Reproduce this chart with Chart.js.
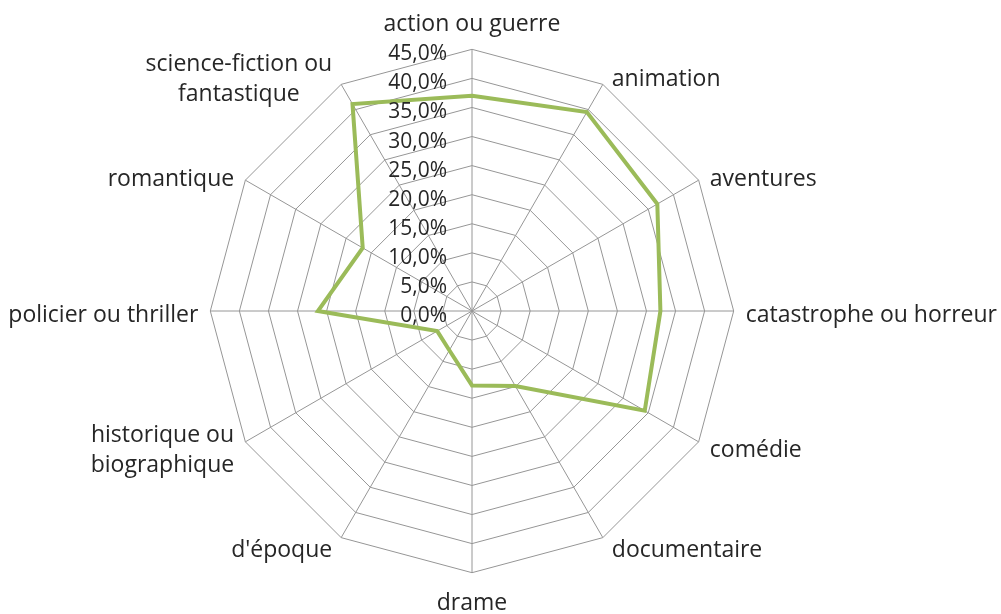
<!DOCTYPE html>
<html>
<head>
<meta charset="utf-8">
<script src="https://cdn.jsdelivr.net/npm/chart.js@4/dist/chart.umd.min.js"></script>
<style>
  html, body { margin: 0; padding: 0; background: #fff; overflow: hidden; width: 1001px; height: 614px; }
  /* canvas a bit wider than the window so the long side labels touch the edges */
  #wrap { position: absolute; left: -29px; top: 5px; width: 1048px; height: 614px; }
</style>
</head>
<body>
<div id="wrap"><canvas id="radarChart"></canvas></div>
<script>
const genres = [
  'action ou guerre',
  'animation',
  'aventures',
  'catastrophe ou horreur',
  'comédie',
  'documentaire',
  'drame',
  "d'époque",
  ['historique ou', 'biographique'],
  'policier ou thriller',
  'romantique',
  ['science-fiction ou', 'fantastique']
];
const shares = [37.0, 39.5, 36.8, 32.4, 34.3, 14.9, 12.8, 7.8, 6.9, 26.5, 21.7, 41.1];
const tickValues = [0, 5, 10, 15, 20, 25, 30, 35, 40, 45];
const tickLabels = ['0,0%', '5,0%', '10,0%', '15,0%', '20,0%', '25,0%', '30,0%', '35,0%', '40,0%', '45,0%'];

const textColor = '#262626';

// Excel-style tick labels, right aligned just left of the vertical axis
const tickLabelPlugin = {
  id: 'tickLabels',
  afterDraw(chart) {
    const scale = chart.scales.r;
    const c = chart.ctx;
    c.save();
    c.font = '21px "Open Sans"';
    c.fillStyle = textColor;
    c.textAlign = 'right';
    c.textBaseline = 'alphabetic';
    tickValues.forEach((v, i) => {
      const d = scale.getDistanceFromCenterForValue(v);
      c.fillText(tickLabels[i], scale.xCenter - 25, scale.yCenter - d + 11);
    });
    c.restore();
  }
};

// category labels placed the Excel way: side labels roughly centred on
// their spoke, multi-line labels centred inside their block
const categoryLabelPlugin = {
  id: 'categoryLabels',
  afterDraw(chart) {
    const scale = chart.scales.r;
    const c = chart.ctx;
    const lineH = 30;
    c.save();
    c.font = '23px "Open Sans"';
    c.fillStyle = textColor;
    c.textAlign = 'center';
    c.textBaseline = 'middle';
    genres.forEach((label, i) => {
      const lines = Array.isArray(label) ? label : [label];
      const a = scale.getIndexAngle(i);
      const s = Math.sin(a), co = Math.cos(a);
      const p = scale.getPointPosition(i, scale.drawingArea);
      const blockW = Math.max(...lines.map(l => c.measureText(l).width));
      const blockH = lines.length * lineH;
      let cx, cy;
      if (Math.abs(s) < 0.01) {
        cx = p.x;
        cy = p.y - Math.sign(co) * (13 + blockH / 2) + 3;
      } else {
        const gap = 6 + 6 * Math.abs(s);
        cx = p.x + Math.sign(s) * (gap + blockW / 2);
        cy = p.y - co * 10 + 4;
      }
      lines.forEach((l, k) => {
        c.fillText(l, cx, cy - blockH / 2 + lineH * (k + 0.5));
      });
    });
    c.restore();
  }
};

const ctx = document.getElementById('radarChart');

new Chart(ctx, {
  type: 'radar',
  data: {
    labels: genres,
    datasets: [{
      label: 'genres',
      data: shares,
      fill: false,
      borderColor: '#9bbb59',
      borderWidth: 4,
      pointRadius: 0,
      tension: 0
    }]
  },
  options: {
    responsive: true,
    maintainAspectRatio: false,
    animation: false,
    scales: {
      r: {
        min: 0,
        max: 45,
        beginAtZero: true,
        ticks: { stepSize: 5, display: false },
        grid: { color: '#969696', lineWidth: 1 },
        angleLines: { color: '#969696', lineWidth: 1 },
        pointLabels: {
          // kept for the layout fit, drawn by categoryLabelPlugin
          color: 'rgba(0,0,0,0)',
          padding: 11,
          font: { family: 'Open Sans', size: 23 }
        }
      }
    },
    plugins: {
      legend: { display: false },
      tooltip: { enabled: false }
    }
  },
  plugins: [tickLabelPlugin, categoryLabelPlugin]
});
</script>
</body>
</html>
